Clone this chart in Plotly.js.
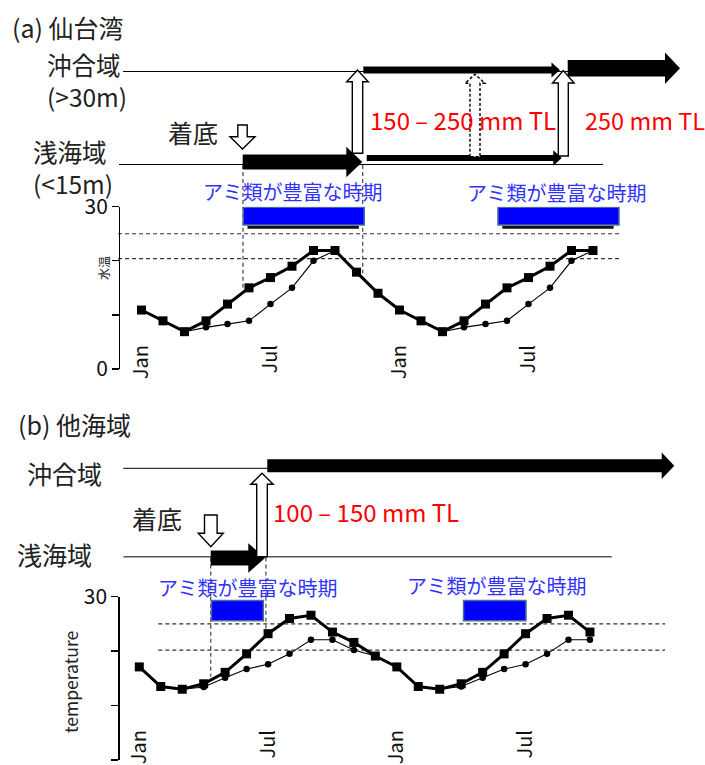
<!DOCTYPE html>
<html><head><meta charset="utf-8">
<script src="https://cdn.plot.ly/plotly-3.0.1.min.js"></script>
<style>html,body{margin:0;padding:0;background:#fff}</style>
</head><body><div id="chart" style="width:705px;height:765px"></div>
<script>
// ---------- data ----------
const monthIndex = [0,1,2,3,4,5,6,7,8,9,10,11,12,13,14,15,16,17,18,19,20,21];
const tickMonths = [0,6,12,18];
const tickLabels = ['Jan','Jul','Jan','Jul'];

// (a) 仙台湾
const tempA_sq = [10.9,8.9,6.9,8.9,12.0,15.0,16.9,19.0,21.9,21.9,17.9,14.0,10.9,8.9,6.9,8.9,12.0,15.0,16.9,19.0,21.9,21.9];
const tempA_ci = [null,null,6.9,7.7,8.3,8.9,12.0,15.0,20.0,21.9,null,null,null,null,6.9,7.7,8.3,8.9,12.0,15.0,20.0,21.9];
const refLinesA = [25, 20.4];
const mysidPeriodsA = [[4.73,10.36],[16.58,22.21]];
const settleMarksA = [[4.72,15.0],[10.29,17.7]];

// (b) 他海域
const tempB_sq = [17.1,13.5,13.0,14.0,16.1,19.5,23.2,26.0,26.6,23.5,21.6,19.1,17.1,13.5,13.0,14.0,16.1,19.5,23.2,26.0,26.6,23.5];
const tempB_ci = [null,null,13.0,13.4,15.1,16.7,17.6,19.5,22.1,22.1,20.2,19.1,null,null,13.0,13.5,15.1,16.7,17.6,19.5,22.1,22.1];
const refLinesB = [25, 20.2];
const mysidPeriodsB = [[3.36,5.78],[15.11,18.02]];
const settleMarksB = [[3.33,15.3],[5.90,23.3]];

// ---------- helpers ----------
const W = 705, H = 765;
const FONT = 'Noto Sans CJK JP, Noto Sans, sans-serif';
const px = x => x / W;
const py = y => 1 - y / H;
function pathOf(pts){ return 'M ' + pts.map(p => px(p[0]) + ',' + py(p[1])).join(' L ') + ' Z'; }
function thickArrow(x0, x1, yc, bh, hh, hl){
  return {type:'path', xref:'paper', yref:'paper', fillcolor:'#000', line:{width:0},
    path: pathOf([[x0,yc-bh],[x1-hl,yc-bh],[x1-hl,yc-hh],[x1,yc],[x1-hl,yc+hh],[x1-hl,yc+bh],[x0,yc+bh]])};
}
function hollowUp(xc, yTop, yBot, sh, hh, hl, dash){
  return {type:'path', xref:'paper', yref:'paper', fillcolor:'#fff', line:{color:'#000', width:1.4, dash: dash||'solid'},
    path: pathOf([[xc-sh,yBot],[xc-sh,yTop+hl],[xc-hh,yTop+hl],[xc,yTop],[xc+hh,yTop+hl],[xc+sh,yTop+hl],[xc+sh,yBot]])};
}
function hollowDown(xc, yTop, yTip, sh, hh, hl){
  return {type:'path', xref:'paper', yref:'paper', fillcolor:'#fff', line:{color:'#000', width:1.4},
    path: pathOf([[xc-sh,yTop],[xc-sh,yTip-hl],[xc-hh,yTip-hl],[xc,yTip],[xc+hh,yTip-hl],[xc+sh,yTip-hl],[xc+sh,yTop]])};
}
function hline(x0, x1, y, color, w){
  return {type:'line', xref:'paper', yref:'paper', x0:px(x0), x1:px(x1), y0:py(y), y1:py(y), line:{color:color, width:w}};
}
function txt(text, x, y, size, color, xanchor, angle){
  return {text:text, xref:'paper', yref:'paper', x:px(x), y:py(y), xanchor:xanchor||'left', yanchor:'middle', align:'left',
    showarrow:false, textangle:angle||0, borderpad:0, font:{family:FONT, size:size, color:color||'#222'}};
}

const shapes = [];
const annotations = [];

function chartDecor(xr, yr, refLines, xStart, xEnd, periods, shadow, marks, lineTopPx, axisTopPx){
  refLines.forEach(v => shapes.push({type:'line', xref:xr, yref:yr, x0:xStart, x1:xEnd, y0:v, y1:v, layer:'below',
    line:{color:'#333', width:1.2, dash:'4px,3px'}}));
  marks.forEach(m => {
    shapes.push({type:'line', xref:xr, yref:yr, x0:m[0], x1:m[0], y0:30, y1:m[1], layer:'below',
      line:{color:'#333', width:1.1, dash:'4px,3px'}});
    shapes.push({type:'line', xref:xr, yref:'paper', x0:m[0], x1:m[0], y0:py(lineTopPx), y1:py(axisTopPx), layer:'below',
      line:{color:'#333', width:1.1, dash:'4px,3px'}});
  });
  periods.forEach(p => {
    if (shadow) shapes.push({type:'line', xref:xr, yref:yr, x0:p[0]+0.2, x1:p[1]-0.25, y0:shadow[1], y1:shadow[1],
      line:{color:'#111', width:3}});
    shapes.push({type:'rect', xref:xr, yref:yr, x0:p[0], x1:p[1], y0:shadow ? shadow[0] : 25.6, y1:shadow ? 29.9 : 29.3,
      fillcolor:'#0000ff', line:{color:'#4a6c9b', width:1.5}});
  });
}

// ---- panel (a) schematic ----
annotations.push(txt('(a) 仙台湾', 11, 27, 25));
annotations.push(txt('沖合域<br>(>30m)', 46, 81, 24.5));
annotations.push(txt('浅海域<br>(<15m)', 32, 167.5, 24.5));
annotations.push(txt('着底', 167, 132, 25));
annotations.push(txt('150 – 250 mm TL', 463, 119, 24, '#ff0000', 'center'));
annotations.push(txt('250 mm TL', 584, 120, 23.5, '#ff0000'));
annotations.push(txt('アミ類が豊富な時期', 292.5, 191, 20, '#3333ff', 'center'));
annotations.push(txt('アミ類が豊富な時期', 556.7, 192, 20, '#3333ff', 'center'));
annotations.push(txt('水温', 103, 268, 12, '#222', 'center', -90));

shapes.push(hline(123, 568, 71.5, '#000', 1));
shapes.push(hline(119, 603, 164.5, '#000', 1));
chartDecor('x', 'y', refLinesA, -1.09, 22.35, mysidPeriodsA, [26.6, 26.2], settleMarksA, 165, 206.7);
shapes.push(thickArrow(242.7, 362.3, 162, 7.5, 15.3, 16));
shapes.push(thickArrow(363.3, 560, 70, 3.5, 7.5, 8.5));
shapes.push(thickArrow(366.7, 561.7, 158, 3, 7.7, 8.4));
shapes.push(thickArrow(567.7, 680, 68.3, 8.3, 15.7, 15));
shapes.push(hollowUp(357.5, 70, 153.3, 5.2, 10.8, 11.7));
shapes.push(hollowUp(563.3, 70.5, 156, 5, 10.8, 12.5));
shapes.push(hollowUp(475, 74.3, 156.7, 5, 10, 9, '3px,2px'));
shapes.push(hollowDown(242.5, 125, 149, 4.7, 12.5, 12.3));

// ---- panel (b) schematic ----
annotations.push(txt('(b) 他海域', 17, 424, 25));
annotations.push(txt('沖合域', 26, 472.5, 25));
annotations.push(txt('着底', 131, 518, 25));
annotations.push(txt('浅海域', 16, 554, 25));
annotations.push(txt('100 – 150 mm TL', 272, 512, 24, '#ff0000'));
annotations.push(txt('アミ類が豊富な時期', 247.5, 587, 20, '#3333ff', 'center'));
annotations.push(txt('アミ類が豊富な時期', 496.7, 585, 20, '#3333ff', 'center'));
annotations.push(txt('temperature', 70, 682, 17.5, '#222', 'center', -90));

shapes.push(hline(123.3, 268, 468.3, '#000', 1));
shapes.push(hline(123.3, 611.7, 556.7, '#555', 1.4));
chartDecor('x2', 'y2', refLinesB, 0.885, 24.5, mysidPeriodsB, null, settleMarksB, 557.5, 596.7);
shapes.push(thickArrow(210.7, 265, 558, 7.5, 14.7, 16.7));
shapes.push(thickArrow(267.3, 674.3, 465.8, 6.5, 13.3, 12.6));
shapes.push(hollowUp(262, 473.3, 556.7, 5.3, 11.2, 11));
shapes.push(hollowDown(210.8, 515, 546.7, 6.3, 12.5, 13.4));

// ---------- traces ----------
function sqTrace(y, xa, ya){ return {x:monthIndex, y:y, xaxis:xa, yaxis:ya, type:'scatter', mode:'lines+markers',
  line:{color:'#000', width:3}, marker:{symbol:'square', size:9, color:'#000'}, cliponaxis:false, hoverinfo:'skip'}; }
function ciTrace(y, xa, ya){ return {x:monthIndex, y:y, xaxis:xa, yaxis:ya, type:'scatter', mode:'lines+markers',
  line:{color:'#000', width:1.1}, marker:{symbol:'circle', size:6.5, color:'#000'}, cliponaxis:false, hoverinfo:'skip'}; }

const traces = [
  ciTrace(tempA_ci, 'x', 'y'), sqTrace(tempA_sq, 'x', 'y'),
  ciTrace(tempB_ci, 'x2', 'y2'), sqTrace(tempB_sq, 'x2', 'y2')
];

function xAxis(range, posPx){
  return {domain:[0,1], range:range, anchor:'free', position:py(posPx), showline:false, showgrid:false, zeroline:false,
    ticks:'', tickvals:tickMonths, ticktext:tickLabels, tickangle:-90, tickfont:{family:FONT, size:20, color:'#111'}, fixedrange:true};
}
function yAxis(botPx, topPx, xPx){
  return {domain:[py(botPx), py(topPx)], range:[0,30], anchor:'free', position:px(xPx), showline:true, linecolor:'#000', linewidth:1.3,
    ticks:'outside', ticklen:7, tickwidth:1.3, tickcolor:'#000', tickvals:[0,10,20,30], ticktext:['0','','','30'],
    tickfont:{family:FONT, size:21, color:'#111'}, showgrid:false, zeroline:false, fixedrange:true};
}

const layout = {
  width:W, height:H, margin:{l:0, r:0, t:0, b:0}, paper_bgcolor:'#fff', plot_bgcolor:'rgba(0,0,0,0)', showlegend:false,
  font:{family:FONT},
  xaxis: xAxis([-6.581, 26.209], 340),
  yaxis: yAxis(369, 206.7, 119),
  xaxis2: xAxis([-6.491, 26.361], 725),
  yaxis2: yAxis(760, 596.7, 118.3),
  shapes: shapes,
  annotations: annotations
};

Plotly.newPlot('chart', traces, layout, {staticPlot:true, displayModeBar:false});
</script></body></html>
